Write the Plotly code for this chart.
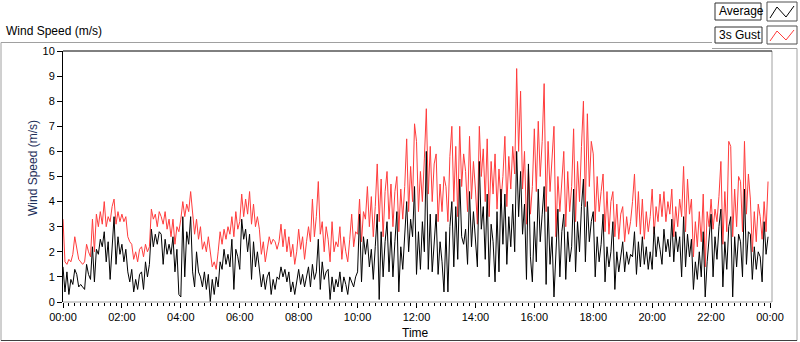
import plotly.graph_objects as go
from datetime import datetime, timedelta

# Sample interval: 4 minutes, 15 samples per hour, 00:00 .. 23:56
SAMPLE_MINUTES = 4

gust_3s = [
    3.3, 1.6, 1.5, 1.7, 1.6, 1.9, 2.6, 2.2, 1.7, 1.6, 1.5, 1.6, 2.3, 2.0, 1.8,   # 00h
    3.3, 2.0, 3.5, 3.0, 3.6, 3.1, 4.0, 3.0, 3.4, 3.2, 3.8, 4.1, 3.1, 3.6, 3.2,   # 01h
    3.5, 3.2, 3.4, 2.6, 2.4, 2.3, 1.7, 2.0, 1.6, 2.1, 2.2, 1.8, 2.3, 2.0, 2.2,   # 02h
    3.7, 3.3, 3.5, 3.0, 3.6, 3.4, 3.1, 3.6, 2.9, 3.3, 2.6, 3.3, 2.3, 3.0, 2.8,   # 03h
    3.3, 4.0, 3.4, 3.9, 3.6, 4.4, 3.6, 2.7, 3.3, 2.5, 3.0, 2.1, 2.4, 2.0, 2.6,   # 04h
    1.9, 1.4, 1.6, 1.3, 2.0, 2.8, 2.3, 2.9, 2.5, 3.0, 2.7, 3.4, 2.6, 3.6, 2.9,   # 05h
    3.2, 4.3, 3.4, 4.1, 3.5, 4.4, 3.1, 3.9, 3.0, 3.4, 2.9, 1.9, 2.4, 1.6, 2.2,   # 06h
    2.6, 2.3, 2.5, 2.4, 2.1, 2.4, 3.1, 2.2, 2.9, 2.0, 2.6, 1.8, 2.3, 1.5, 2.0,   # 07h
    2.9, 2.1, 2.6, 1.7, 2.4, 3.0, 2.4, 4.1, 2.6, 3.4, 4.8, 2.7, 3.2, 2.0, 3.0,   # 08h
    2.5, 1.6, 3.2, 2.0, 2.4, 2.2, 3.0, 1.7, 2.6, 2.0, 1.6, 2.5, 3.5, 2.2, 2.8,   # 09h
    2.7, 4.1, 2.4, 3.6, 3.3, 4.6, 3.0, 4.2, 2.6, 3.8, 5.5, 3.2, 4.9, 2.6, 4.4,   # 10h
    5.2, 3.3, 4.7, 3.0, 4.4, 5.0, 2.8, 4.5, 3.3, 4.6, 6.5, 3.6, 5.4, 4.0, 7.1,   # 11h
    6.4, 3.6, 5.2, 4.0, 5.7, 7.7, 4.3, 6.2, 4.0, 5.5, 5.9, 3.2, 4.7, 3.6, 5.0,   # 12h
    4.6, 3.2, 5.8, 7.0, 4.0, 6.2, 3.4, 7.0, 4.6, 5.9, 5.2, 3.6, 6.6, 4.1, 5.6,   # 13h
    4.5, 3.1, 7.0, 5.0, 6.1, 4.0, 6.5, 3.4, 5.6, 4.3, 5.9, 3.7, 5.3, 4.0, 5.0,   # 14h
    6.6, 3.8, 5.8, 4.5, 6.2, 5.1, 9.3, 6.0, 8.4, 4.5, 6.0, 3.1, 5.3, 3.5, 4.6,   # 15h
    6.9, 4.4, 7.2, 5.0, 6.4, 8.7, 3.6, 6.4, 4.4, 5.5, 7.0, 2.6, 5.0, 3.6, 4.8,   # 16h
    6.0, 3.0, 5.2, 3.6, 4.6, 6.9, 3.2, 5.6, 4.0, 6.2, 8.0, 3.8, 7.5, 4.6, 6.4,   # 17h
    5.9, 3.2, 5.0, 3.6, 4.4, 5.1, 2.8, 4.4, 2.7, 4.0, 4.4, 2.6, 3.9, 2.5, 3.5,   # 18h
    3.8, 2.4, 3.4, 2.7, 3.2, 4.0, 5.1, 3.0, 4.4, 2.7, 4.1, 2.5, 3.6, 2.8, 3.4,   # 19h
    4.5, 2.7, 3.8, 3.2, 4.3, 3.4, 4.4, 3.2, 4.0, 3.5, 4.5, 2.6, 3.8, 3.0, 4.1,   # 20h
    3.4, 5.4, 2.8, 4.9, 3.5, 4.1, 1.8, 3.2, 2.2, 3.6, 2.4, 4.3, 1.4, 3.6, 3.0,   # 21h
    4.1, 2.9, 3.7, 3.2, 4.2, 5.6, 2.3, 4.4, 2.8, 6.4, 6.2, 2.6, 4.5, 3.0, 5.0,   # 22h
    4.8, 2.8, 6.4, 3.5, 5.1, 4.1, 2.0, 3.6, 2.4, 3.9, 3.4, 2.5, 4.0, 2.8, 4.8,   # 23h
]

average = [
    1.4, 0.4, 1.2, 0.3, 0.9, 0.7, 1.3, 1.1, 0.6, 0.7, 0.6, 0.5, 1.5, 1.1, 0.9,   # 00h
    2.2, 0.8, 2.1, 1.9, 2.5, 2.2, 2.8, 1.6, 2.4, 0.9, 2.3, 3.4, 1.5, 2.6, 1.9,   # 01h
    2.3, 1.6, 2.1, 1.2, 0.8, 1.3, 0.4, 0.9, 0.5, 1.1, 1.2, 0.5, 1.6, 1.0, 1.5,   # 02h
    2.9, 2.2, 2.7, 2.3, 2.8, 2.7, 1.5, 2.5, 1.9, 2.3, 1.9, 2.6, 1.2, 2.1, 0.3,   # 03h
    0.2, 3.4, 1.0, 2.8, 2.3, 3.4, 1.2, 0.6, 2.0, 1.2, 1.0, 0.6, 1.2, 0.5, 1.1,   # 04h
    0.0, 0.9, 0.3, 1.0, 0.6, 1.6, 1.3, 2.1, 1.5, 1.9, 1.4, 2.5, 0.5, 2.1, 1.8,   # 05h
    1.3, 3.3, 2.5, 2.9, 2.0, 2.7, 0.9, 2.4, 1.4, 2.0, 1.4, 0.6, 1.1, 0.5, 1.0,   # 06h
    1.2, 0.3, 0.9, 0.5, 1.0, 0.9, 1.4, 1.0, 1.3, 0.8, 1.2, 0.4, 0.8, 0.3, 0.9,   # 07h
    1.3, 0.7, 1.1, 0.6, 1.0, 1.4, 0.6, 1.5, 0.9, 1.2, 2.5, 0.5, 1.6, 0.9, 1.2,   # 08h
    1.3, 0.1, 1.0, 0.4, 0.9, 0.6, 1.2, 0.4, 1.0, 0.7, 0.3, 1.0, 0.8, 0.6, 1.0,   # 09h
    1.2, 3.5, 0.8, 2.6, 1.9, 2.5, 1.4, 2.1, 0.9, 2.2, 3.5, 0.1, 2.8, 1.0, 2.4,   # 10h
    3.2, 1.2, 2.8, 1.0, 2.4, 3.6, 0.4, 2.2, 1.3, 2.9, 4.0, 2.0, 3.3, 2.6, 4.6,   # 11h
    1.1, 2.8, 1.3, 3.2, 2.0, 6.0, 1.3, 3.5, 1.2, 2.6, 3.5, 1.1, 2.4, 1.6, 0.4,   # 12h
    2.8, 0.4, 3.0, 4.0, 1.4, 3.8, 1.7, 4.9, 2.6, 2.3, 2.9, 1.5, 4.4, 2.2, 3.6,   # 13h
    2.6, 1.4, 5.6, 2.9, 3.8, 1.7, 4.3, 1.0, 3.1, 2.4, 0.8, 3.6, 1.2, 4.5, 2.3,   # 14h
    4.3, 1.5, 3.4, 2.2, 3.9, 2.0, 6.0, 3.4, 5.2, 2.7, 3.9, 0.9, 5.5, 1.8, 0.8,   # 15h
    3.2, 1.6, 4.5, 2.4, 3.5, 4.6, 0.7, 3.8, 1.5, 2.6, 0.2, 2.2, 3.7, 1.0, 2.8,   # 16h
    3.5, 0.9, 2.8, 1.6, 2.2, 4.5, 1.2, 3.2, 2.0, 3.8, 4.9, 1.6, 4.0, 2.4, 3.2,   # 17h
    3.6, 1.0, 2.6, 1.6, 2.3, 3.5, 0.8, 2.2, 1.4, 2.0, 3.2, 0.5, 2.0, 1.2, 1.8,   # 18h
    2.4, 1.2, 2.0, 1.5, 1.9, 1.8, 2.8, 1.1, 2.4, 1.4, 2.6, 1.5, 2.2, 1.3, 2.0,   # 19h
    1.3, 3.0, 1.8, 2.6, 2.1, 1.5, 2.9, 2.0, 2.5, 1.8, 3.3, 1.6, 2.8, 2.0, 2.6,   # 20h
    1.0, 3.4, 1.4, 2.7, 1.8, 2.5, 0.5, 1.6, 0.9, 2.0, 1.0, 2.8, 0.2, 1.6, 2.4,   # 21h
    3.5, 1.0, 2.6, 1.7, 3.0, 3.7, 0.6, 2.4, 1.3, 3.0, 3.4, 0.2, 2.6, 1.4, 2.7,   # 22h
    2.4, 1.0, 4.5, 1.5, 2.8, 2.7, 0.9, 2.2, 1.3, 2.0, 1.8, 0.8, 3.2, 1.9, 2.6,   # 23h
]

start = datetime(2000, 1, 1, 0, 0)
end = start + timedelta(days=1)
times = [start + timedelta(minutes=SAMPLE_MINUTES * i) for i in range(len(gust_3s))]

y_ticks = list(range(0, 11))

FONT = "Liberation Sans, Arial, sans-serif"
RED = "#ff3c3c"

fig = go.Figure()
fig.add_trace(go.Scatter(x=times, y=gust_3s, mode="lines", name="3s Gust",
                         line=dict(color=RED, width=1), showlegend=False))
fig.add_trace(go.Scatter(x=times, y=average, mode="lines", name="Average",
                         line=dict(color="black", width=1), showlegend=False))

# plot area in pixels: x 63..770, y 51..302
W, H = 800, 342
L, R, T, B = 63, 770, 51, 302


def px(x):
    return (x - L) / (R - L)


def py(y):
    return (B - y) / (B - T)


shapes = []
# plot frame
shapes.append(dict(type="line", xref="paper", yref="paper", x0=px(L), x1=px(772), y0=py(B), y1=py(B),
                   line=dict(color="#a0a0a0", width=1)))
shapes.append(dict(type="line", xref="paper", yref="paper", x0=px(772), x1=px(772), y0=py(T), y1=py(B),
                   line=dict(color="#a0a0a0", width=1)))
shapes.append(dict(type="line", xref="paper", yref="paper", x0=px(L), x1=px(772), y0=py(T), y1=py(T),
                   line=dict(color="black", width=1)))
# outer panel frame
shapes.append(dict(type="line", xref="paper", yref="paper", x0=px(1), x1=px(712), y0=py(42.5), y1=py(42.5),
                   line=dict(color="#a0a0a0", width=1)))
shapes.append(dict(type="line", xref="paper", yref="paper", x0=px(712), x1=px(797), y0=py(48.5), y1=py(48.5),
                   line=dict(color="#a0a0a0", width=1)))
shapes.append(dict(type="line", xref="paper", yref="paper", x0=px(1), x1=px(1), y0=py(42.5), y1=py(340.5),
                   line=dict(color="#a0a0a0", width=1)))
shapes.append(dict(type="line", xref="paper", yref="paper", x0=px(797), x1=px(797), y0=py(48.5), y1=py(340.5),
                   line=dict(color="#a0a0a0", width=1)))
shapes.append(dict(type="line", xref="paper", yref="paper", x0=px(1), x1=px(797), y0=py(340.5), y1=py(340.5),
                   line=dict(color="#404040", width=1)))

# legend boxes
legend_rows = [("Average", "black", 3, 20, 715, 761), ("3s Gust", RED, 27, 43, 715, 762)]
annotations = []
for label, col, y0, y1, bx0, bx1 in legend_rows:
    shapes.append(dict(type="rect", xref="paper", yref="paper", x0=px(bx0), x1=px(bx1), y0=py(y1), y1=py(y0),
                       line=dict(color="#303030", width=1), fillcolor="white"))
    shapes.append(dict(type="rect", xref="paper", yref="paper", x0=px(767), x1=px(797), y0=py(y1 + 1), y1=py(y0 - 1),
                       line=dict(color="#505050", width=1), fillcolor="white"))
    # zig-zag icon
    zx = [770, 777, 786, 794]
    zy = [y1 - 2, y0 + 4, y1 - 3, y0 + 3]
    path = "M " + " L ".join(f"{px(a)},{py(b)}" for a, b in zip(zx, zy))
    shapes.append(dict(type="path", xref="paper", yref="paper", path=path,
                       line=dict(color=col, width=1)))
    annotations.append(dict(text=label, xref="paper", yref="paper", x=px(bx0 + 2), y=py((y0 + y1) / 2),
                            xanchor="left", yanchor="middle", showarrow=False,
                            font=dict(family=FONT, size=12, color="black")))

annotations.append(dict(text="Wind Speed (m/s)", xref="paper", yref="paper", x=px(4), y=py(31),
                        xanchor="left", yanchor="middle", showarrow=False,
                        font=dict(family=FONT, size=12, color="black")))
annotations.append(dict(text="Wind Speed (m/s)", xref="paper", yref="paper", x=px(33), y=py(168),
                        xanchor="center", yanchor="middle", showarrow=False, textangle=-90,
                        font=dict(family=FONT, size=12, color="#1e2f5a")))
annotations.append(dict(text="Time", xref="paper", yref="paper", x=px(415), y=py(333),
                        xanchor="center", yanchor="middle", showarrow=False,
                        font=dict(family=FONT, size=12, color="black")))

fig.update_layout(
    width=W, height=H,
    margin=dict(l=L, r=W - R, t=T, b=H - B, pad=0),
    paper_bgcolor="white", plot_bgcolor="white",
    font=dict(family=FONT, size=11, color="black"),
    shapes=shapes, annotations=annotations,
    showlegend=False,
)
fig.update_xaxes(
    range=[start, end], type="date", tickformat="%H:%M", dtick=2 * 3600 * 1000,
    tick0=start, ticks="outside", ticklen=5, tickcolor="black", tickwidth=1,
    minor=dict(dtick=12 * 60 * 1000, ticks="outside", ticklen=3, tickcolor="black", showgrid=False),
    showgrid=False, zeroline=False, showline=False,
    tickfont=dict(family=FONT, size=11, color="black"),
)
fig.update_yaxes(
    range=[0, 10], tickvals=y_ticks, ticks="outside", ticklen=5, tickcolor="black",
    showgrid=False, zeroline=False, showline=True, linecolor="black", linewidth=1,
    tickfont=dict(family=FONT, size=11, color="black"),
)

fig.write_html("out.html",
               config={"displayModeBar": False},
               post_script="document.body.style.margin='0';document.body.style.padding='0';"
                           "document.body.style.overflow='hidden';")
